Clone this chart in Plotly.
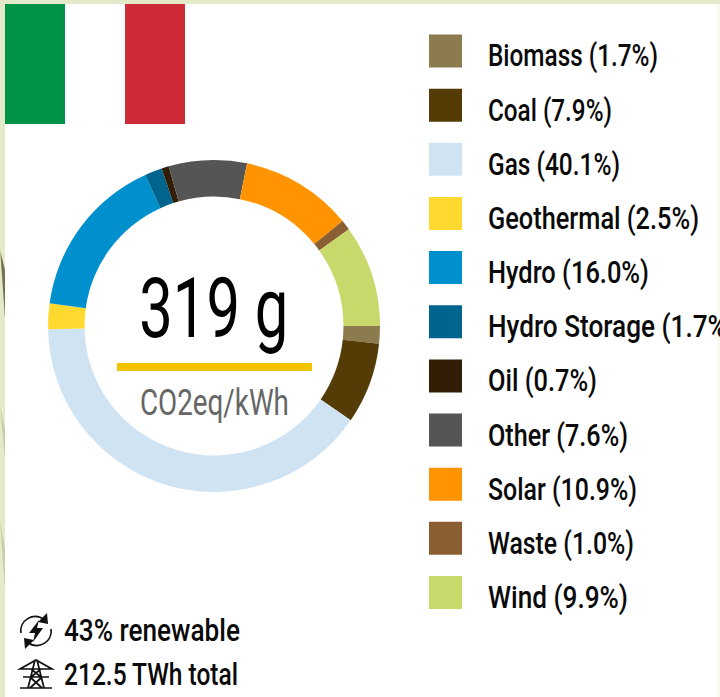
import json
import plotly.graph_objects as go

W, H = 720, 697
sources = ["Biomass", "Coal", "Gas", "Geothermal", "Hydro", "Hydro Storage", "Oil", "Other", "Solar", "Waste", "Wind"]
shares = [1.7, 7.9, 40.1, 2.5, 16.0, 1.7, 0.7, 7.6, 10.9, 1.0, 9.9]
colors = ["#8B7B4F", "#553C06", "#CFE3F3", "#FFD92F", "#0090CE", "#00648F", "#321E05", "#555555", "#FF9300", "#8B5E34", "#C8D86B"]
FONT = "Roboto, sans-serif"

def X(p): return p / W
def Y(p): return 1 - p / H

cx, cy, R = 214, 326, 166
fig = go.Figure(go.Pie(
    labels=sources, values=shares, sort=False, direction="clockwise", rotation=90,
    hole=0.78, textinfo="none", hoverinfo="label+percent",
    marker=dict(colors=colors, line=dict(width=0)),
    domain=dict(x=[X(cx - R), X(cx + R)], y=[Y(cy + R), Y(cy - R)]),
    showlegend=False,
))

shapes, ann = [], []
def rect(x0, y0, x1, y1, c, layer="below"):
    shapes.append(dict(type="rect", xref="paper", yref="paper", x0=X(x0), x1=X(x1), y0=Y(y0), y1=Y(y1),
                       fillcolor=c, line=dict(width=0), layer=layer))
def path(d, fill=None, line=None, width=1.7):
    shapes.append(dict(type="path", xref="x", yref="y", path=d,
                       fillcolor=fill or "rgba(0,0,0,0)",
                       line=dict(color=line or "rgba(0,0,0,0)", width=width if line else 0), layer="above"))
def text(x, y, s, size, color="#0a0a0a", anchor="left", weight=500):
    ann.append(dict(xref="paper", yref="paper", x=X(x), y=Y(y), text=s, showarrow=False,
                    xanchor=anchor, yanchor="middle", font=dict(family=FONT, size=size, color=color, weight=weight)))

rect(0, 0, W, H, "#E3EAC9")
rect(5, 4, 717, H, "#FFFFFF")
rect(717, 4, W, H, "#FBFBF3")
path("M0 248 L5 318 L5 270 L0 250 Z", fill="#77714F")
path("M0 405 L5 460 L5 430 Z", fill="#C9CDA6")
path("M0 520 L5 590 L5 550 Z", fill="#C9CDA6")
rect(5, 4, 65, 124, "#009246")
rect(65, 4, 125, 124, "#FFFFFF")
rect(125, 4, 185, 124, "#CE2B37")

text(cx, 308, "319 g", 84, "#000000", "center", 400)
rect(117, 363, 312, 371, "#F4C300")
text(cx, 403, "CO2eq/kWh", 36, "#666666", "center", 400)

label_px = [170, 124, 132, 211, 161, 248, 109, 140, 149, 146, 140]
targets = {"319 g": 149, "CO2eq/kWh": 149, "43% renewable": 176, "212.5 TWh total": 174}
for i, (s, v, c) in enumerate(zip(sources, shares, colors)):
    y = 51 + i * 54.15
    rect(429, y - 16.5, 462, y + 16.5, c)
    label = f"{s} ({v:.1f}%)"
    targets[label] = label_px[i]
    text(486, y + 5, label, 31)

text(62, 630, "43% renewable", 32)
text(62, 674, "212.5 TWh total", 32)

path("M21 633 C19 621 33 611 45 620", line="#111")
path("M51 629 C53 641 39 651 27 642", line="#111")
path("M47 613 L48 624 L38 622 Z", fill="#111")
path("M25 649 L24 638 L34 640 Z", fill="#111")
path("M39 620 L29 633 L35 633 L33 642 L43 628 L37 628 Z", fill="#111")
path("M35 660 L28 688 M37 660 L44 688 M20 669 L52 669 L36 660 Z M23 677 L49 677 M20 688 L52 688 M30 677 L42 688 M42 677 L30 688 M31 669 L41 677 M41 669 L31 677", line="#111")

fig.update_layout(
    width=W, height=H, margin=dict(l=0, r=0, t=0, b=0), paper_bgcolor="#FFFFFF",
    xaxis=dict(range=[0, W], visible=False, fixedrange=True, domain=[0, 1]),
    yaxis=dict(range=[H, 0], visible=False, fixedrange=True, domain=[0, 1]),
    shapes=shapes, annotations=ann, plot_bgcolor="rgba(0,0,0,0)",
)
fig.add_trace(go.Scatter(x=[0, W], y=[0, H], mode="none", showlegend=False, hoverinfo="skip"))

squeeze = """
document.body.style.margin='0';document.body.style.overflow='hidden';
var TARGET=%s, CENTRED=['319 g','CO2eq/kWh'];
document.querySelectorAll('.annotation-text').forEach(function(t){
  var s=t.textContent, w=t.getComputedTextLength(), n=TARGET[s]||w;
  t.setAttribute('lengthAdjust','spacingAndGlyphs');
  t.setAttribute('textLength',n);
  if(CENTRED.indexOf(s)<0){
    t.setAttribute('x',parseFloat(t.getAttribute('x'))-(w-n)/2);
    var b=t.parentNode.querySelector('rect.bg');
    if(b){b.setAttribute('width',n+4);}
  }
});
""" % json.dumps(targets)
fig.write_html("out.html", post_script=squeeze, config={"displayModeBar": False})
